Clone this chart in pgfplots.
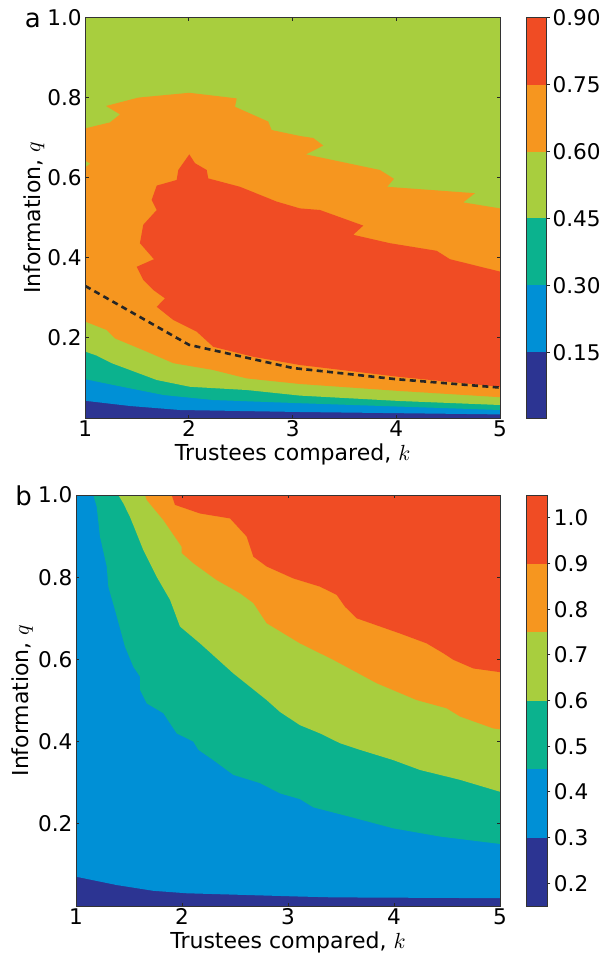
\documentclass[border=0pt]{standalone}
\usepackage{fontspec}
\setmainfont{DejaVu Sans}
\usepackage{pgfplots}
\pgfplotsset{compat=1.18}
\definecolor{cA}{RGB}{44,52,146}
\definecolor{cB}{RGB}{0,144,214}
\definecolor{cC}{RGB}{11,178,142}
\definecolor{cD}{RGB}{168,206,62}
\definecolor{cE}{RGB}{246,150,31}
\definecolor{cF}{RGB}{240,76,36}
\pgfplotsset{
  mainax/.style={
    scale only axis, axis on top,
    xmin=1, xmax=5, ymin=0, ymax=1, enlargelimits=false,
    xtick={1,2,3,4,5}, ytick={0.2,0.4,0.6,0.8,1.0},
    tick align=inside, major tick length=1.7pt,
    tick style={black!85, line width=0.5pt},
    axis line style={black!80, line width=0.5pt},
    /pgf/number format/assume math mode=true,
    tick label style={font=\fontsize{10.8}{12}\selectfont},
    y tick label style={/pgf/number format/.cd, fixed, fixed zerofill, precision=1, /tikz/.cd, inner xsep=1.6pt},
    x tick label style={inner ysep=1.2pt},
    scaled y ticks=false,
    label style={font=\fontsize{11}{13}\selectfont, inner sep=0pt},
    xlabel={Trustees compared, $k$},
    ylabel={Information, $q$},
    xlabel style={at={(axis description cs:0.5,0)}, anchor=north, yshift=-12.5pt},
  },
  cbax/.style={
    scale only axis, axis on top,
    xmin=0, xmax=1, enlargelimits=false,
    xtick=\empty, ytick pos=right, yticklabel pos=right,
    tick align=outside, major tick length=1.5pt,
    tick style={black!85, line width=0.5pt},
    axis line style={black!80, line width=0.5pt},
    /pgf/number format/assume math mode=true,
    tick label style={font=\fontsize{10.8}{12}\selectfont},
    scaled y ticks=false,
  },
  reg/.style={draw=none, fill=#1, forget plot, mark=none},
}
\begin{document}
\begin{tikzpicture}
\useasboundingbox (0,0) rectangle (300pt,-478pt);

% ---------------- panel a ----------------
\begin{axis}[mainax, at={(42.65pt,-9pt)}, anchor=north west, width=207.35pt, height=200pt,
  ylabel style={at={([xshift=-22.6pt]axis description cs:0,0.5)}, anchor=base, rotate=0}]
\addplot[reg=cA] coordinates {(1,0) (5,0) (5,1) (1,1)} --cycle;
\addplot[reg=cB] coordinates {(1,0.043) (1.431,0.030) (1.913,0.020) (3.07,0.015) (5,0.009) (5,1) (1,1)} --cycle;
\addplot[reg=cC] coordinates {(1,0.097) (1.270,0.0825) (1.752,0.0575) (2.234,0.045) (3.07,0.037) (5,0.020) (5,1) (1,1)} --cycle;
\addplot[reg=cD] coordinates {(1,0.166) (1.110,0.156) (1.255,0.137) (1.689,0.095) (2.010,0.078) (2.556,0.070) (3.070,0.056) (4.035,0.0425) (5,0.0325) (5,1) (1,1)} --cycle;
\addplot[reg=cE] coordinates {(1,0.241) (1.206,0.220) (1.286,0.199) (1.592,0.166) (1.849,0.137) (2.234,0.120) (2.556,0.099) (3.070,0.085) (4.035,0.0675) (5,0.052)
  (5,0.524) (4.645,0.539) (4.758,0.562) (3.912,0.578) (3.977,0.598) (3.842,0.620) (3.128,0.659) (3.295,0.681) (3.199,0.700) (3.070,0.705) (2.797,0.720) (2.765,0.741) (2.444,0.778) (2.460,0.799) (2.003,0.813) (1.511,0.801) (1.200,0.780) (1.335,0.759) (1.238,0.739) (1,0.724)} --cycle;
\addplot[reg=cD] coordinates {(1,0.643) (1.045,0.636) (1,0.627)} --cycle;
\addplot[reg=cF] coordinates {(2.003,0.659) (2.058,0.637) (2.171,0.620) (2.186,0.599) (2.492,0.578) (2.846,0.541) (3.070,0.524) (3.263,0.520) (3.681,0.481) (3.584,0.458) (3.938,0.437) (4.389,0.418) (4.517,0.397) (5,0.366)
  (5,0.078) (4.035,0.1025) (3.070,0.1325) (2.620,0.153) (2.234,0.178) (2.074,0.216) (1.849,0.245) (1.689,0.278) (1.769,0.299) (1.656,0.320) (1.559,0.345) (1.496,0.378) (1.662,0.397) (1.527,0.437) (1.559,0.483) (1.689,0.520) (1.640,0.545) (1.689,0.581) (1.881,0.595) (1.897,0.620)} --cycle;
\addplot[black!85, line width=1.3pt, dash pattern=on 3pt off 2.2pt, mark=none] coordinates {(1,0.330) (2,0.183) (3,0.125) (4,0.097) (5,0.076)};
\end{axis}

\begin{axis}[cbax, at={(263.35pt,-9pt)}, anchor=north west, width=10pt, height=200.5pt,
  ymin=0, ymax=0.9, ytick={0.15,0.30,0.45,0.60,0.75,0.90},
  y tick label style={/pgf/number format/.cd, fixed, fixed zerofill, precision=2, /tikz/.cd, inner xsep=1.2pt}]
\addplot[reg=cA] coordinates {(0,0) (1,0) (1,0.15) (0,0.15)} --cycle;
\addplot[reg=cB] coordinates {(0,0.15) (1,0.15) (1,0.30) (0,0.30)} --cycle;
\addplot[reg=cC] coordinates {(0,0.30) (1,0.30) (1,0.45) (0,0.45)} --cycle;
\addplot[reg=cD] coordinates {(0,0.45) (1,0.45) (1,0.60) (0,0.60)} --cycle;
\addplot[reg=cE] coordinates {(0,0.60) (1,0.60) (1,0.75) (0,0.75)} --cycle;
\addplot[reg=cF] coordinates {(0,0.75) (1,0.75) (1,0.90) (0,0.90)} --cycle;
\end{axis}

% ---------------- panel b ----------------
\begin{axis}[mainax, at={(38pt,-247.5pt)}, anchor=north west, width=212pt, height=205.5pt,
  ylabel style={at={([xshift=-23.7pt]axis description cs:0,0.5)}, anchor=base, rotate=0}]
\addplot[reg=cA] coordinates {(1,0) (5,0) (5,1) (1,1)} --cycle;
\addplot[reg=cB] coordinates {(1,0.0713) (1.384,0.051) (1.729,0.037) (2.044,0.031) (3.113,0.023) (3.427,0.021) (5,0.019) (5,1) (1,1)} --cycle;
\addplot[reg=cC] coordinates {(1.163,1) (1.195,0.972) (1.226,0.899) (1.290,0.826) (1.305,0.777) (1.368,0.720) (1.462,0.631) (1.541,0.582) (1.604,0.558) (1.604,0.526) (1.667,0.493) (1.824,0.469) (1.950,0.420) (2.107,0.400) (2.154,0.380) (2.295,0.355) (2.484,0.319) (2.736,0.299) (2.925,0.274) (3.113,0.260) (3.239,0.240) (3.585,0.217) (3.993,0.189) (4.434,0.169) (5,0.151) (5,1)} --cycle;
\addplot[reg=cD] coordinates {(1.399,1) (1.446,0.980) (1.509,0.947) (1.635,0.866) (1.761,0.801) (1.887,0.745) (1.981,0.680) (2.170,0.639) (2.484,0.566) (2.799,0.501) (2.925,0.472) (3.113,0.440) (3.302,0.420) (3.491,0.396) (3.679,0.380) (3.993,0.355) (4.245,0.331) (4.623,0.307) (5,0.278) (5,1)} --cycle;
\addplot[reg=cE] coordinates {(1.651,1) (1.667,0.988) (1.824,0.939) (1.997,0.874) (1.997,0.859) (2.107,0.834) (2.327,0.793) (2.547,0.761) (2.673,0.737) (2.799,0.688) (3.113,0.639) (3.427,0.599) (3.837,0.542) (4.214,0.501) (4.497,0.481) (4.623,0.461) (4.937,0.432) (5,0.430) (5,1)} --cycle;
\addplot[reg=cF] coordinates {(1.903,1) (1.934,0.976) (2.170,0.955) (2.453,0.943) (2.610,0.899) (2.673,0.850) (2.799,0.826) (3.050,0.797) (3.302,0.777) (3.459,0.757) (3.538,0.728) (3.648,0.700) (4.057,0.663) (4.308,0.639) (4.465,0.615) (4.560,0.599) (4.748,0.578) (5,0.569) (5,1)} --cycle;
\end{axis}

\begin{axis}[cbax, at={(263.35pt,-247.5pt)}, anchor=north west, width=10.3pt, height=205.6pt,
  ymin=0.15, ymax=1.05, ytick={0.2,0.3,0.4,0.5,0.6,0.7,0.8,0.9,1.0},
  y tick label style={/pgf/number format/.cd, fixed, fixed zerofill, precision=1, /tikz/.cd, inner xsep=1.6pt}]
\addplot[reg=cA] coordinates {(0,0.15) (1,0.15) (1,0.30) (0,0.30)} --cycle;
\addplot[reg=cB] coordinates {(0,0.30) (1,0.30) (1,0.45) (0,0.45)} --cycle;
\addplot[reg=cC] coordinates {(0,0.45) (1,0.45) (1,0.60) (0,0.60)} --cycle;
\addplot[reg=cD] coordinates {(0,0.60) (1,0.60) (1,0.75) (0,0.75)} --cycle;
\addplot[reg=cE] coordinates {(0,0.75) (1,0.75) (1,0.90) (0,0.90)} --cycle;
\addplot[reg=cF] coordinates {(0,0.90) (1,0.90) (1,1.05) (0,1.05)} --cycle;
\end{axis}

\node[anchor=base west, inner sep=0pt, font=\fontsize{13}{15}\selectfont] at (12.3pt,-13.6pt) {a};
\node[anchor=base west, inner sep=0pt, font=\fontsize{13}{15}\selectfont] at (7.5pt,-252.5pt) {b};
\end{tikzpicture}
\end{document}
